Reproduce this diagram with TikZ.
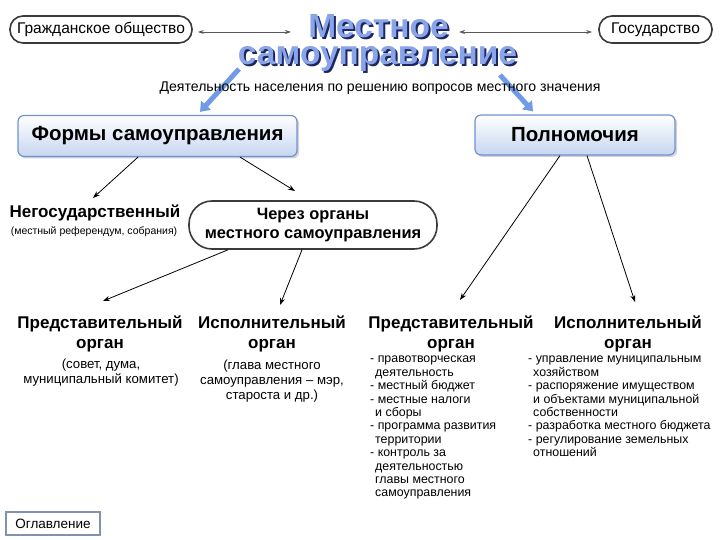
\documentclass[tikz,border=0pt]{standalone}
\usepackage{fontspec}
\setmainfont{Liberation Sans}
\usetikzlibrary{arrows.meta,shadows,calc}
\definecolor{pillgray}{HTML}{3A3A3A}
\definecolor{boxblue}{HTML}{6E92D2}
\definecolor{boxfill}{HTML}{C7D6F1}
\definecolor{arrowblue}{HTML}{6F9AE6}
\definecolor{titleblue}{HTML}{8AA4EA}
\definecolor{titlenavy}{HTML}{1C2660}
\definecolor{tocborder}{HTML}{7F93AE}
\newcommand\mytitleshadow[1]{\makebox[0pt][l]{\hspace*{2pt}\raisebox{-2pt}{\textcolor{titlenavy}{#1}}}\textcolor{titleblue}{#1}}
\begin{document}
\begin{tikzpicture}[x=1pt,y=-1pt,
  pill/.style={draw=pillgray, line width=1.6pt, rounded corners=13pt, fill=white,
    minimum height=27pt, inner sep=0pt, font=\fontsize{15.5}{17}\selectfont},
  bluebox/.style={draw=boxblue, line width=1.2pt, rounded corners=6pt, top color=white,
    bottom color=boxfill, drop shadow={opacity=0.35, shadow xshift=2pt, shadow yshift=-2pt},
    inner sep=0pt, font=\bfseries\fontsize{20.5}{22}\selectfont},
  titletext/.style={anchor=base, inner sep=0pt, font=\bfseries\fontsize{33.5}{36}\selectfont},
  heading/.style={align=center, inner sep=0pt, font=\bfseries\fontsize{17}{20}\selectfont},
  subtext/.style={align=center, inner sep=0pt, font=\fontsize{13.2}{15}\selectfont},
  items/.style={align=left, anchor=north west, inner sep=0pt, font=\fontsize{12.4}{13.4}\selectfont},
  arr/.style={-{Stealth[length=7pt,width=5pt]}, line width=0.8pt},
  grayarr/.style={{Stealth[length=6pt,width=4pt]}-{Stealth[length=6pt,width=4pt]}, line width=0.7pt, draw=black!65},
  bluearr/.style={line width=5pt, draw=arrowblue, -{Triangle[length=9pt,width=13pt]}}
]
\useasboundingbox (0,0) rectangle (720,540);

% top boxes
\node[pill, minimum width=182pt] (civil) at (101,29.5) {Гражданское общество};
\node[pill, minimum width=113pt] (state) at (655.5,29.5) {Государство};

% blue arrows (behind title)
\coordinate (b1s) at (239,69);
\coordinate (b2s) at (500,75);
\node[bluebox, minimum width=279pt, minimum height=41pt] (forms) at (157.5,136) {Формы самоуправления};
\node[bluebox, minimum width=200pt, minimum height=40pt] (powers) at (575,135) {Полномочия};
\draw[bluearr] (b1s) -- ([xshift=42.5pt,yshift=3pt]forms.north);
\draw[bluearr] (b2s) -- ([xshift=-42pt,yshift=3pt]powers.north);

% title
\node[titletext] (title1) at (378.5,38) {\mytitleshadow{Местное}};
\node[titletext] (title2) at (377.5,65) {\mytitleshadow{самоуправление}};
\node[anchor=base, inner sep=0pt, font=\fontsize{14.1}{16}\selectfont] (sub) at (380,92)
  {Деятельность населения по решению вопросов местного значения};

\coordinate (t1) at (291,32);
\coordinate (t2) at (459,32);
\draw[grayarr] ([xshift=5pt,yshift=-2.5pt]civil.east) -- (t1);
\draw[grayarr] (t2) -- ([xshift=-6pt,yshift=-2.5pt]state.west);

% middle level
\node[anchor=base, inner sep=0pt, font=\bfseries\fontsize{17}{19}\selectfont] (neg) at (95,218) {Негосударственный};
\node[anchor=base, inner sep=0pt, font=\fontsize{10.5}{12}\selectfont] (negsub) at (94,235) {(местный референдум, собрания)};
\node[pill, rounded corners=23pt, minimum width=248pt, minimum height=48pt, align=center,
  font=\bfseries\fontsize{16.4}{19}\selectfont] (via) at (313,225) {Через органы\\местного самоуправления};

% bottom headings
\node[heading] (lrep) at (100,334) {Представительный\\орган};
\node[heading] (lexe) at (272,334) {Исполнительный\\орган};
\node[heading] (rrep) at (451,334) {Представительный\\орган};
\node[heading] (rexe) at (628,334) {Исполнительный\\орган};

\node[subtext] (lrepsub) at (101,373) {(совет, дума,\\муниципальный комитет)};
\node[subtext] (lexesub) at (272,381) {(глава местного\\самоуправления – мэр,\\староста и др.)};

\node[items] (rrepitems) at (370,356) {- правотворческая\\\hspace*{5pt}деятельность\\- местный бюджет\\- местные налоги\\\hspace*{5pt}и сборы\\- программа развития\\\hspace*{5pt}территории\\- контроль за\\\hspace*{5pt}деятельностью\\\hspace*{5pt}главы местного\\\hspace*{5pt}самоуправления};
\node[items] (rexeitems) at (528,356) {- управление муниципальным\\\hspace*{5pt}хозяйством\\- распоряжение имуществом\\\hspace*{5pt}и объектами муниципальной\\\hspace*{5pt}собственности\\- разработка местного бюджета\\- регулирование земельных\\\hspace*{5pt}отношений};

% arrow end points
\coordinate (negin) at (93,198);
\coordinate (viain) at (295,191);
\coordinate (lrepin) at (103,301);
\coordinate (lexein) at (280,305);
\coordinate (rrepin) at (460,300);
\coordinate (rexein) at (635,302);

\draw[arr] ([xshift=-19.5pt]forms.south) -- (negin);
\draw[arr] ([xshift=82.5pt]forms.south) -- (viain);
\draw[arr] ([xshift=-85pt]via.south) -- (lrepin);
\draw[arr] ([xshift=-11pt]via.south) -- (lexein);
\draw[arr] ([xshift=-15pt]powers.south) -- (rrepin);
\draw[arr] ([xshift=12pt]powers.south) -- (rexein);

% table of contents button
\node[draw=tocborder, line width=1.5pt, fill=white, minimum width=94pt, minimum height=23pt,
  inner sep=0pt, font=\fontsize{13.5}{15}\selectfont] (toc) at (53,523.5) {Оглавление};
\end{tikzpicture}
\end{document}
